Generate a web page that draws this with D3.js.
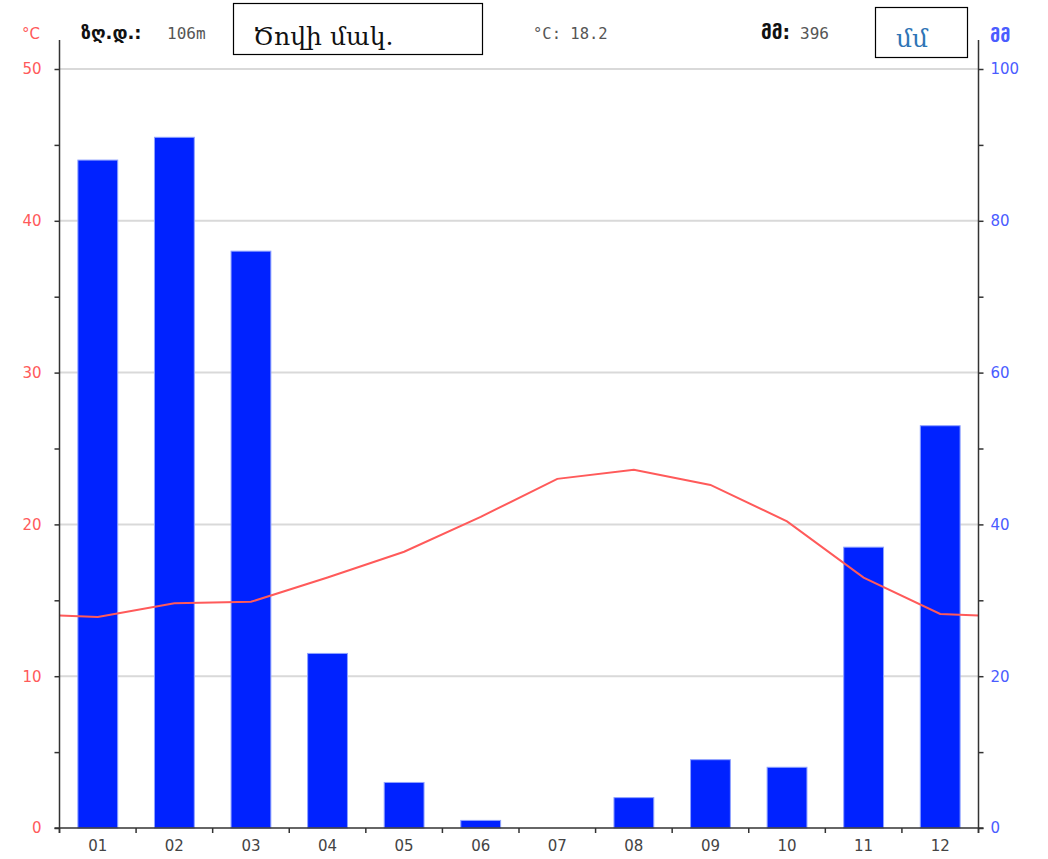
<!DOCTYPE html>
<html>
<head>
<meta charset="utf-8">
<script src="https://cdn.jsdelivr.net/npm/d3@7/dist/d3.min.js"></script>
<style>
  html, body { margin: 0; padding: 0; background: #fff; }
  svg { display: block; }
</style>
</head>
<body>
<svg id="chart" width="1048" height="859"></svg>
<script>
// ---- data ----
const months = ["01","02","03","04","05","06","07","08","09","10","11","12"];
const precipitation = [88, 91, 76, 23, 6, 1, 0, 4, 9, 8, 37, 53];           // mm
const temperature = [13.9, 14.8, 14.9, 16.5, 18.2, 20.5, 23.0, 23.6, 22.6, 20.2, 16.5, 14.1]; // °C
const tempTicks = [0, 10, 20, 30, 40, 50];
const precTicks = [0, 20, 40, 60, 80, 100];
const headerAltLabel = "ზღ.დ.:";
const headerAltValue = "106m";
const headerTemp = "°C: 18.2";
const headerPrecLabel = "მმ:";
const headerPrecValue = "396";
const overlay1 = "Ծովի մակ.";
const overlay2 = "մմ";

// ---- layout ----
const L = 59.5, R = 978.5, T = 69, B = 828;
const svg = d3.select("#chart");

const x = d3.scaleBand().domain(months).range([L, R]).paddingInner(0.48).paddingOuter(0.24);
const xb = d3.scaleLinear().domain([0, 12]).range([L, R]);
const yT = d3.scaleLinear().domain([0, 50]).range([B, T]);
const yP = d3.scaleLinear().domain([0, 100]).range([B, T]);

// gridlines
svg.append("g").selectAll("line").data(tempTicks.filter(d => d > 0)).join("line")
  .attr("x1", L).attr("x2", R)
  .attr("y1", d => yT(d)).attr("y2", d => yT(d))
  .attr("stroke", "#d9d9d9").attr("stroke-width", 2);

// bars
svg.append("g").selectAll("rect").data(precipitation).join("rect")
  .attr("x", (d, i) => x(months[i]))
  .attr("width", x.bandwidth())
  .attr("y", d => yP(d))
  .attr("height", d => B - yP(d))
  .attr("fill", "#0022ff")
  .attr("stroke", "#8fa2ff").attr("stroke-width", 1);

// temperature line (extended to plot edges)
const edge = (temperature[0] + temperature[11]) / 2;
const pts = [[xb(0), yT(edge)]]
  .concat(temperature.map((t, i) => [xb(i + 0.5), yT(t)]))
  .concat([[xb(12), yT(edge)]]);
svg.append("path").attr("d", d3.line()(pts))
  .attr("fill", "none").attr("stroke", "#ff5a5a").attr("stroke-width", 2);

// left axis
const axL = d3.axisLeft(yT).tickValues(d3.range(0, 51, 5)).tickSize(5)
  .tickFormat(d => d % 10 === 0 ? d : "");
const gL = svg.append("g").attr("transform", `translate(${L},0)`).call(axL);
gL.select(".domain").remove();
gL.selectAll(".tick line").attr("stroke", "#333").attr("stroke-width", 1.5);
gL.selectAll(".tick text").attr("fill", "#ff5a5a").attr("font-family", "DejaVu Sans")
  .attr("font-size", 15).attr("x", -18);
svg.append("line").attr("x1", L).attr("x2", L).attr("y1", 40).attr("y2", 833)
  .attr("stroke", "#333").attr("stroke-width", 1.5);

// right axis
const axR = d3.axisRight(yP).tickValues(d3.range(0, 101, 10)).tickSize(5)
  .tickFormat(d => d % 20 === 0 ? d : "");
const gR = svg.append("g").attr("transform", `translate(${R},0)`).call(axR);
gR.select(".domain").remove();
gR.selectAll(".tick line").attr("stroke", "#333").attr("stroke-width", 1.5);
gR.selectAll(".tick text").attr("fill", "#4a5cff").attr("font-family", "DejaVu Sans")
  .attr("font-size", 15).attr("x", 12);
svg.append("line").attr("x1", R).attr("x2", R).attr("y1", 40).attr("y2", 833)
  .attr("stroke", "#333").attr("stroke-width", 1.5);

// bottom axis
svg.append("line").attr("x1", L - 5).attr("x2", R + 5).attr("y1", B).attr("y2", B)
  .attr("stroke", "#333").attr("stroke-width", 1.5);
svg.append("g").selectAll("line").data(d3.range(0, 13)).join("line")
  .attr("x1", d => xb(d)).attr("x2", d => xb(d))
  .attr("y1", B).attr("y2", B + 5)
  .attr("stroke", "#333").attr("stroke-width", 1.5);
svg.append("g").selectAll("text").data(months).join("text")
  .attr("x", d => x(d) + x.bandwidth() / 2).attr("y", 851)
  .attr("text-anchor", "middle").attr("font-family", "DejaVu Sans").attr("font-size", 15)
  .attr("fill", "#444").text(d => d);

// header
svg.append("text").attr("x", 22).attr("y", 39).attr("font-family", "DejaVu Sans")
  .attr("font-size", 15).attr("fill", "#ff5a5a").text("°C");
svg.append("text").attr("x", 990).attr("y", 42).attr("font-family", "DejaVu Sans")
  .attr("font-size", 18).attr("font-weight", "bold").attr("fill", "#4a5cff").text("მმ");
svg.append("text").attr("x", 81).attr("y", 39).attr("font-family", "DejaVu Sans")
  .attr("font-size", 18).attr("font-weight", "bold").attr("fill", "#111").text(headerAltLabel);
svg.append("text").attr("x", 167).attr("y", 39).attr("font-family", "DejaVu Sans Mono")
  .attr("font-size", 16).attr("fill", "#555").text(headerAltValue);
svg.append("text").attr("x", 533).attr("y", 39).attr("font-family", "DejaVu Sans Mono")
  .attr("font-size", 15.5).attr("fill", "#555").text(headerTemp);
svg.append("text").attr("x", 761).attr("y", 39).attr("font-family", "DejaVu Sans")
  .attr("font-size", 19).attr("font-weight", "bold").attr("fill", "#111").text(headerPrecLabel);
svg.append("text").attr("x", 800).attr("y", 39).attr("font-family", "DejaVu Sans Mono")
  .attr("font-size", 16).attr("fill", "#555").text(headerPrecValue);

// overlay boxes
svg.append("rect").attr("x", 233.5).attr("y", 3.5).attr("width", 249).attr("height", 51)
  .attr("fill", "#fff").attr("stroke", "#000").attr("stroke-width", 1.2);
svg.append("text").attr("x", 253).attr("y", 45).attr("font-family", "DejaVu Serif")
  .attr("font-size", 25).attr("fill", "#111").text(overlay1);
svg.append("rect").attr("x", 875.5).attr("y", 7.5).attr("width", 92).attr("height", 50)
  .attr("fill", "#fff").attr("stroke", "#000").attr("stroke-width", 1.2);
svg.append("text").attr("x", 896).attr("y", 47).attr("font-family", "DejaVu Serif")
  .attr("font-size", 25).attr("fill", "#2e75b6").text(overlay2);
</script>
</body>
</html>
